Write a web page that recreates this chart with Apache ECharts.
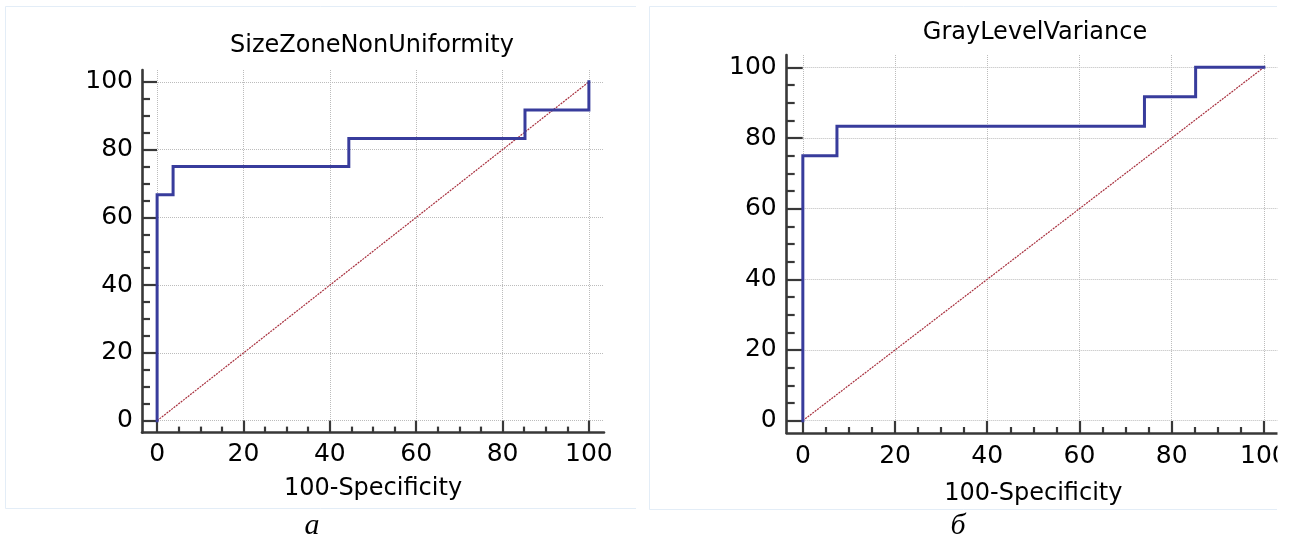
<!DOCTYPE html>
<html>
<head>
<meta charset="utf-8">
<script src="https://cdn.jsdelivr.net/npm/echarts@6/dist/echarts.min.js"></script>
<style>
html,body{margin:0;padding:0;background:#ffffff;}
#chart{width:1290px;height:540px;}
</style>
</head>
<body>
<div id="chart"></div>
<script>
// ---- data ----
const tickValues = [0, 20, 40, 60, 80, 100];
const tickLabels = ['0', '20', '40', '60', '80', '100'];
const minorTickValues = [5, 10, 15, 25, 30, 35, 45, 50, 55, 65, 70, 75, 85, 90, 95];
const panelTitles = ['SizeZoneNonUniformity', 'GrayLevelVariance'];
const panelCaptions = ['а', 'б'];
const xAxisName = '100-Specificity';

// ROC vertices: 100-Specificity (x) and Sensitivity (y)
const sizeZoneFpr = [0, 0, 3.7, 3.7, 44.4, 44.4, 85.2, 85.2, 100, 100];
const sizeZoneTpr = [0, 66.7, 66.7, 75, 75, 83.3, 83.3, 91.7, 91.7, 100];
const grayLevelFpr = [0, 0, 7.4, 7.4, 74.1, 74.1, 85.2, 85.2, 100];
const grayLevelTpr = [0, 75, 75, 83.3, 83.3, 91.7, 91.7, 100, 100];
const diagonalFpr = [0, 100];
const diagonalTpr = [0, 100];

// ---- styles / layout ----
const FONT = 'DejaVu Sans';
const AXIS_COLOR = '#383838';
const TEXT_COLOR = '#000000';
const ROC_COLOR = '#383c9c';
const DIAG_COLOR = '#a8303e';
const GRID_COLOR = '#bcbcbc';
const AX_MIN = -3.5, AX_MAX = 103.5;

const panels = [
  { grid: { left: 142, top: 70, width: 462, height: 362.6 },
    titleX: 372, titleY: 46, nameGap: 44, xLabelMargin: 9, yLabelMargin: 9,
    xMajor: 12, xMinor: 6, yMajor: 15, yMinor: 8,
    fpr: sizeZoneFpr, tpr: sizeZoneTpr, captionX: 312 },
  { grid: { left: 786.7, top: 55, width: 493.3, height: 378 },
    titleX: 1035, titleY: 33, nameGap: 49, xLabelMargin: 11, yLabelMargin: 10,
    xMajor: 12, xMinor: 6, yMajor: 16, yMinor: 8,
    fpr: grayLevelFpr, tpr: grayLevelTpr, captionX: 958 }
];

function zip(a, b) { return a.map((v, i) => [v, b[i]]); }
function fmt(v) { const i = tickValues.indexOf(v); return i >= 0 ? tickLabels[i] : ''; }

const grids = [], xAxes = [], yAxes = [], series = [], graphics = [];

panels.forEach((p, gi) => {
  grids.push(Object.assign({ outerBoundsMode: 'none', containLabel: false }, p.grid));
  const lineStyle = { color: AXIS_COLOR, width: 2.6 };
  const tickStyle = { color: AXIS_COLOR, width: 2.2 };
  const splitStyle = { type: 'dotted', color: GRID_COLOR, width: 1 };
  // major x
  xAxes.push({
    type: 'value', gridIndex: gi, min: AX_MIN, max: AX_MAX, position: 'bottom',
    axisLine: { show: true, onZero: false, lineStyle: lineStyle },
    axisTick: { show: true, inside: true, length: p.xMajor, customValues: tickValues, lineStyle: tickStyle },
    axisLabel: { show: true, customValues: tickValues, formatter: fmt, margin: p.xLabelMargin,
                 fontFamily: FONT, fontSize: 25, color: TEXT_COLOR },
    splitLine: { show: true, lineStyle: splitStyle },
    name: xAxisName, nameLocation: 'middle', nameGap: p.nameGap,
    nameTextStyle: { fontFamily: FONT, fontSize: 24, color: TEXT_COLOR }
  });
  // minor x
  xAxes.push({
    type: 'value', gridIndex: gi, min: AX_MIN, max: AX_MAX, position: 'bottom',
    axisLine: { show: false, onZero: false },
    axisTick: { show: true, inside: true, length: p.xMinor, customValues: minorTickValues, lineStyle: tickStyle },
    axisLabel: { show: false },
    splitLine: { show: false }
  });
  // major y
  yAxes.push({
    type: 'value', gridIndex: gi, min: AX_MIN, max: AX_MAX, position: 'left',
    axisLine: { show: true, onZero: false, lineStyle: lineStyle },
    axisTick: { show: true, inside: true, length: p.yMajor, customValues: tickValues, lineStyle: tickStyle },
    axisLabel: { show: true, customValues: tickValues, formatter: fmt, margin: p.yLabelMargin,
                 fontFamily: FONT, fontSize: 25, color: TEXT_COLOR },
    splitLine: { show: true, lineStyle: splitStyle }
  });
  // minor y
  yAxes.push({
    type: 'value', gridIndex: gi, min: AX_MIN, max: AX_MAX, position: 'left',
    axisLine: { show: false, onZero: false },
    axisTick: { show: true, inside: true, length: p.yMinor, customValues: minorTickValues, lineStyle: tickStyle },
    axisLabel: { show: false },
    splitLine: { show: false }
  });
  const xi = gi * 2, yi = gi * 2;
  series.push({
    type: 'line', xAxisIndex: xi, yAxisIndex: yi, data: zip(diagonalFpr, diagonalTpr),
    symbol: 'none', silent: true, z: 2,
    lineStyle: { color: DIAG_COLOR, width: 1.2, type: [2, 1] }
  });
  series.push({
    type: 'line', xAxisIndex: xi, yAxisIndex: yi, data: zip(p.fpr, p.tpr),
    symbol: 'none', silent: true, z: 3,
    lineStyle: { color: ROC_COLOR, width: 3, join: 'miter', cap: 'square' }
  });
  graphics.push({
    type: 'text', x: p.titleX, y: p.titleY, silent: true,
    style: { text: panelTitles[gi], font: '24px "' + FONT + '"', fill: TEXT_COLOR,
             textAlign: 'center', textVerticalAlign: 'middle' }
  });
  graphics.push({
    type: 'text', x: p.captionX, y: 526, silent: true,
    style: { text: panelCaptions[gi], font: 'italic 30px "Liberation Serif"', fill: TEXT_COLOR,
             textAlign: 'center', textVerticalAlign: 'middle' }
  });
});

// faint panel frames
graphics.push({ type: 'polyline', silent: true, z: -1,
  shape: { points: [[636, 6.5], [5.5, 6.5], [5.5, 508.5], [636, 508.5]] },
  style: { stroke: '#e3edf7', lineWidth: 1, fill: null } });
graphics.push({ type: 'polyline', silent: true, z: -1,
  shape: { points: [[1277, 6.5], [649.5, 6.5], [649.5, 509.5], [1277, 509.5]] },
  style: { stroke: '#e3edf7', lineWidth: 1, fill: null } });
// right panel is cut at the picture edge
graphics.push({ type: 'rect', silent: true, z: 100,
  shape: { x: 1277.5, y: 0, width: 13, height: 540 }, style: { fill: '#ffffff' } });

const chart = echarts.init(document.getElementById('chart'), null, { renderer: 'canvas' });
chart.setOption({
  backgroundColor: '#ffffff',
  animation: false,
  grid: grids,
  xAxis: xAxes,
  yAxis: yAxes,
  series: series,
  graphic: graphics
});
</script>
</body>
</html>
